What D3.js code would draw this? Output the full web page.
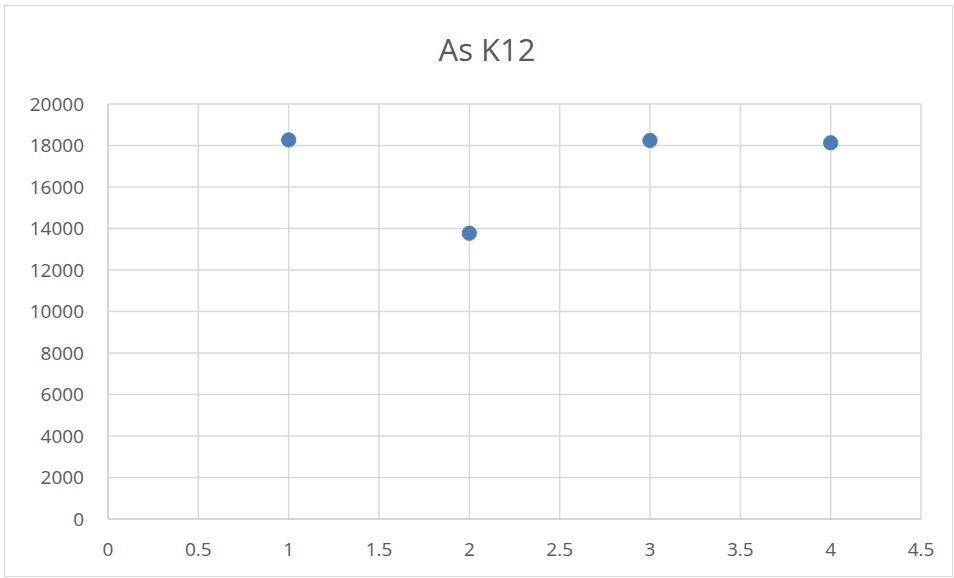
<!DOCTYPE html>
<html>
<head>
<meta charset="utf-8">
<script src="https://cdn.jsdelivr.net/npm/d3@7"></script>
<style>
  html, body { margin: 0; padding: 0; background: #fff; }
  svg { display: block; }
  text { font-family: "Open Sans", "Noto Sans", sans-serif; fill: #595959; }
</style>
</head>
<body>
<svg id="chart" width="954" height="578"></svg>
<script>
const title = "As K12";
const xValues = [1, 2, 3, 4];
const yValues = [18270, 13770, 18240, 18130];
const xTicks = [0, 0.5, 1, 1.5, 2, 2.5, 3, 3.5, 4, 4.5];
const yTicks = [0, 2000, 4000, 6000, 8000, 10000, 12000, 14000, 16000, 18000, 20000];

const W = 954, H = 578;
const m = { left: 108, right: 921, top: 104, bottom: 519 };

const svg = d3.select("#chart");

// chart frame
svg.append("rect")
  .attr("x", 4.5).attr("y", 5.5)
  .attr("width", W - 6).attr("height", H - 7)
  .attr("fill", "#fff").attr("stroke", "#d9d9d9").attr("stroke-width", 1);

const x = d3.scaleLinear().domain([0, 4.5]).range([m.left, m.right]);
const y = d3.scaleLinear().domain([0, 20000]).range([m.bottom, m.top]);

// vertical gridlines
svg.append("g")
  .selectAll("line").data(xTicks.slice(1)).join("line")
  .attr("x1", d => x(d)).attr("x2", d => x(d))
  .attr("y1", m.top).attr("y2", m.bottom)
  .attr("stroke", "#d9d9d9").attr("stroke-width", 1.5);

// horizontal gridlines
svg.append("g")
  .selectAll("line").data(yTicks.slice(1)).join("line")
  .attr("x1", m.left).attr("x2", m.right)
  .attr("y1", d => y(d)).attr("y2", d => y(d))
  .attr("stroke", "#d9d9d9").attr("stroke-width", 1.5);

// axis lines
svg.append("line")
  .attr("x1", x(0)).attr("x2", x(0)).attr("y1", m.top).attr("y2", m.bottom)
  .attr("stroke", "#c8c8c8").attr("stroke-width", 1.5);
svg.append("line")
  .attr("x1", m.left).attr("x2", m.right).attr("y1", y(0)).attr("y2", y(0))
  .attr("stroke", "#c8c8c8").attr("stroke-width", 1.5);

// y tick labels
svg.append("g")
  .selectAll("text").data(yTicks).join("text")
  .attr("x", 84).attr("y", d => y(d))
  .attr("dy", "0.35em")
  .attr("text-anchor", "end")
  .attr("font-size", 19)
  .text(d => d);

// x tick labels
svg.append("g")
  .selectAll("text").data(xTicks).join("text")
  .attr("x", d => x(d)).attr("y", 549)
  .attr("dy", "0.35em")
  .attr("text-anchor", "middle")
  .attr("font-size", 19)
  .text(d => d);

// title
svg.append("text")
  .attr("x", 487).attr("y", 61)
  .attr("text-anchor", "middle")
  .attr("font-size", 31)
  .text(title);

// points
svg.append("g")
  .selectAll("circle").data(xValues.map((v, i) => [v, yValues[i]])).join("circle")
  .attr("cx", d => x(d[0])).attr("cy", d => y(d[1]))
  .attr("r", 7.2)
  .attr("fill", "#4a7ebb")
  .attr("stroke", "#4272b5").attr("stroke-width", 0.8);
</script>
</body>
</html>
